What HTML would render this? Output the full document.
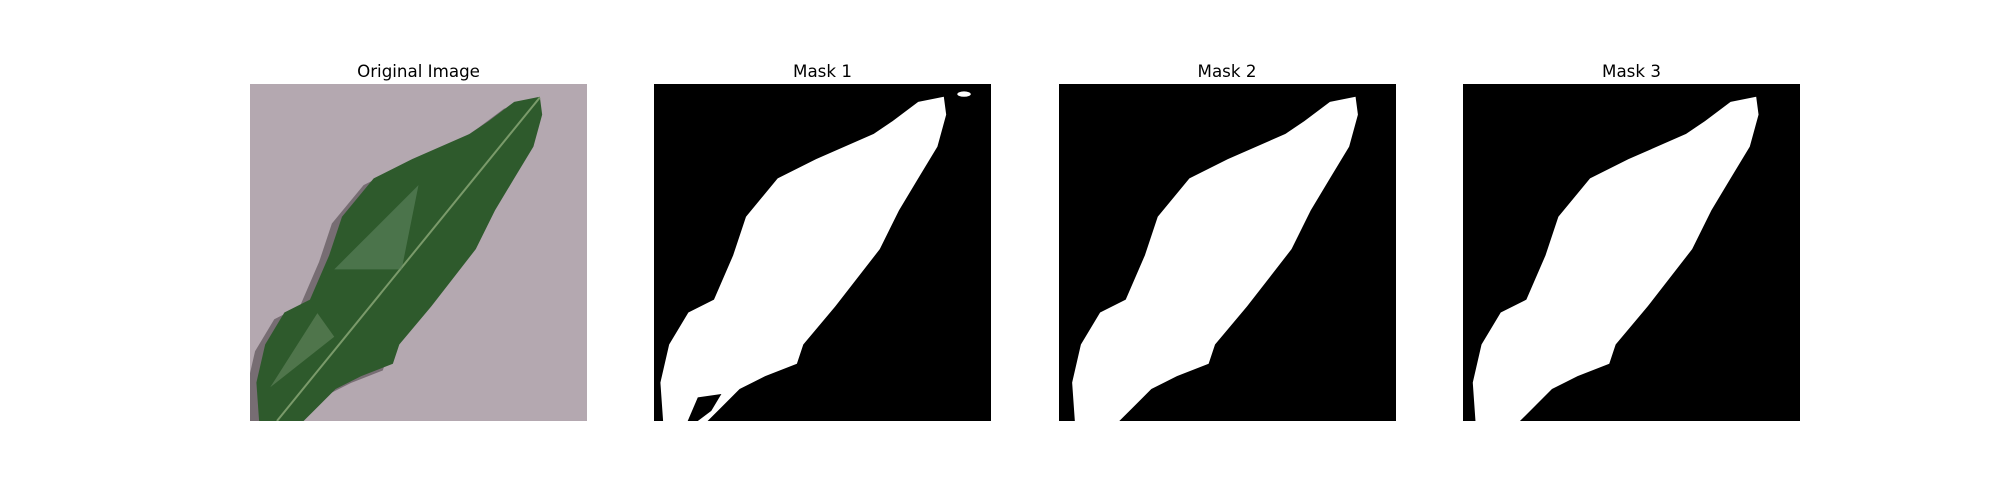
<!DOCTYPE html>
<html><head><meta charset="utf-8"><style>
html,body{margin:0;padding:0;background:#fff;width:2000px;height:500px;overflow:hidden}
text{font-family:"DejaVu Sans","Liberation Sans",sans-serif;font-size:16.7px;fill:#000}
</style></head><body>
<svg width="2000" height="500" viewBox="0 0 2000 500">
<defs>
<path id="leaf" d="M0.86,0.038 L0.867,0.091 L0.841,0.186 L0.784,0.28 L0.727,0.375 L0.67,0.49 L0.538,0.66 L0.443,0.773 L0.424,0.83 L0.33,0.867 L0.254,0.905 L0.197,0.962 L0.159,1 L0.027,1 L0.019,0.886 L0.045,0.773 L0.102,0.678 L0.178,0.64 L0.235,0.508 L0.273,0.394 L0.367,0.28 L0.481,0.223 L0.652,0.148 L0.708,0.11 L0.784,0.053 Z"/>
<clipPath id="unit"><rect x="0" y="0" width="1" height="1"/></clipPath>
</defs>
<g>
<text x="418.5" y="77" text-anchor="middle">Original Image</text>
<rect x="250" y="84" width="337" height="337" fill="#b4a8b0"/>
<g transform="translate(250,84) scale(337)" clip-path="url(#unit)">
<use href="#leaf" transform="translate(-0.03,0.02)" fill="#3a3236" opacity="0.5"/>
<use href="#leaf" fill="#2e5a2c"/>
<path d="M0.86,0.04 L0.08,1" stroke="#7a9a6a" stroke-width="0.006" fill="none"/>
<path d="M0.25,0.55 L0.5,0.3 L0.45,0.55 Z" fill="#5f8560" opacity="0.6"/>
<path d="M0.06,0.9 L0.2,0.68 L0.25,0.75 Z" fill="#6f8f6a" opacity="0.5"/>
</g>
</g>
<g>
<text x="822.5" y="77" text-anchor="middle">Mask 1</text>
<rect x="654" y="84" width="337" height="337" fill="#000"/>
<g transform="translate(654,84) scale(337)" clip-path="url(#unit)"><use href="#leaf" fill="#fff"/>
<path d="M0.1,1 L0.13,0.93 L0.2,0.92 L0.17,0.97 L0.13,1 Z" fill="#000"/>
<ellipse cx="0.92" cy="0.03" rx="0.02" ry="0.008" fill="#fff"/></g>
</g>
<g>
<text x="1227" y="77" text-anchor="middle">Mask 2</text>
<rect x="1059" y="84" width="337" height="337" fill="#000"/>
<g transform="translate(1059,84) scale(337)" clip-path="url(#unit)"><use href="#leaf" fill="#fff" transform="translate(0.02,0.0)"/></g>
</g>
<g>
<text x="1631.5" y="77" text-anchor="middle">Mask 3</text>
<rect x="1463" y="84" width="337" height="337" fill="#000"/>
<g transform="translate(1463,84) scale(337)" clip-path="url(#unit)"><use href="#leaf" fill="#fff" transform="translate(0.01,0)"/></g>
</g>
</svg>
</body></html>
